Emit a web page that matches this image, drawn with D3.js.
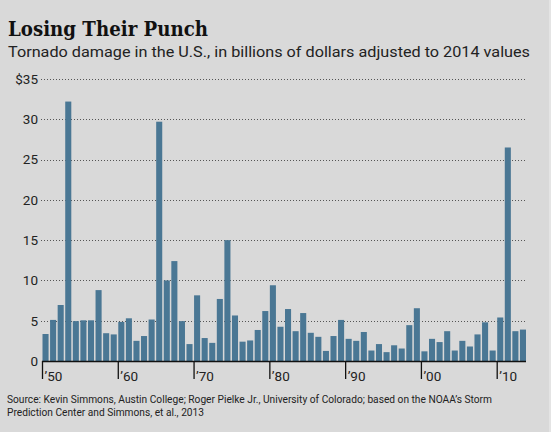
<!DOCTYPE html>
<html>
<head>
<meta charset="utf-8">
<script src="https://cdn.jsdelivr.net/npm/d3@7"></script>
<style>
  html, body { margin: 0; padding: 0; background: #ffffff; }
  svg { display: block; }
</style>
</head>
<body>
<svg id="chart" width="555" height="435"></svg>
<script>
const years = d3.range(1950, 2014);
const damage = [
  3.35, 5.1, 6.95, 32.2, 4.95, 5.05, 5.05, 8.8, 3.45, 3.3,
  4.85, 5.3, 2.5, 3.1, 5.15, 29.7, 10.0, 12.4, 4.95, 2.1,
  8.15, 2.85, 2.25, 7.7, 15.0, 5.65, 2.4, 2.55, 3.85, 6.2,
  9.4, 4.25, 6.45, 3.7, 5.95, 3.5, 3.0, 1.25, 3.1, 5.1,
  2.75, 2.5, 3.6, 1.3, 2.1, 1.1, 1.95, 1.55, 4.45, 6.55,
  1.2, 2.75, 2.35, 3.7, 1.3, 2.5, 1.8, 3.3, 4.8, 1.3,
  5.4, 26.5, 3.7, 3.9
];
const yTicks = [0, 5, 10, 15, 20, 25, 30, 35];
const yTickLabels = ["0", "5", "10", "15", "20", "25", "30", "$35"];
const decadeYears = [1950, 1960, 1970, 1980, 1990, 2000, 2010];
const decadeLabels = ["\u201950", "\u201960", "\u201970", "\u201980", "\u201990", "\u201900", "\u201910"];
const title = "Losing Their Punch";
const subtitle = "Tornado damage in the U.S., in billions of dollars adjusted to 2014 values";
const sourceLines = [
  "Source: Kevin Simmons, Austin College; Roger Pielke Jr., University of Colorado; based on the NOAA\u2019s Storm",
  "Prediction Center and Simmons, et al., 2013"
];

const svg = d3.select("#chart");
const font = "Roboto, 'Noto Sans', sans-serif";

svg.append("rect").attr("x", 0).attr("y", 0).attr("width", 549).attr("height", 432).attr("fill", "#d9d9d9");
svg.append("rect").attr("x", 549).attr("y", 0).attr("width", 2).attr("height", 432).attr("fill", "#e4e4e4");

const x = d3.scaleBand().domain(years).range([42.5, 526]).paddingInner(0.2).paddingOuter(0);
const y = d3.scaleLinear().domain([0, 35]).range([361, 79]);

// gridlines
svg.append("g").selectAll("line").data(yTicks.filter(d => d > 0)).join("line")
  .attr("x1", 41).attr("x2", 526)
  .attr("y1", d => Math.round(y(d)) + 0.5).attr("y2", d => Math.round(y(d)) + 0.5)
  .attr("stroke", "#555").attr("stroke-width", 1).attr("stroke-dasharray", "1,2");

// y labels
svg.append("g").selectAll("text").data(yTicks).join("text")
  .attr("x", 38).attr("y", d => y(d)).attr("dy", "0.36em")
  .attr("text-anchor", "end").attr("font-family", font).attr("font-size", 13.5).attr("fill", "#222")
  .text((d, i) => yTickLabels[i]);

// bars
svg.append("g").selectAll("rect").data(years).join("rect")
  .attr("x", d => x(d)).attr("width", x.bandwidth())
  .attr("y", (d, i) => y(damage[i])).attr("height", (d, i) => y(0) - y(damage[i]))
  .attr("fill", "#4a7794");

// baseline
svg.append("line").attr("x1", 42).attr("x2", 526).attr("y1", 361.5).attr("y2", 361.5)
  .attr("stroke", "#111").attr("stroke-width", 1.5);

// decade ticks
svg.append("g").selectAll("line").data(decadeYears).join("line")
  .attr("x1", d => x(d)).attr("x2", d => x(d))
  .attr("y1", 361).attr("y2", 379)
  .attr("stroke", "#111").attr("stroke-width", 1.3);
svg.append("g").selectAll("text").data(decadeYears).join("text")
  .attr("x", d => x(d) + 2).attr("y", 381)
  .attr("font-family", font).attr("font-size", 13.5).attr("fill", "#222")
  .text((d, i) => decadeLabels[i]);

// titles
svg.append("text").attr("x", 8).attr("y", 36)
  .attr("font-family", "'DejaVu Serif', serif").attr("font-weight", "bold").attr("font-size", 19.5)
  .attr("textLength", 200).attr("lengthAdjust", "spacingAndGlyphs")
  .attr("fill", "#111").text(title);
svg.append("text").attr("x", 8).attr("y", 57)
  .attr("font-family", font).attr("font-size", 14.5).attr("fill", "#222")
  .attr("textLength", 522).attr("lengthAdjust", "spacingAndGlyphs")
  .text(subtitle);

// source
svg.append("g").selectAll("text").data(sourceLines).join("text")
  .attr("x", 7).attr("y", (d, i) => 403 + i * 12.5)
  .attr("font-family", font).attr("font-size", 11.5).attr("fill", "#222")
  .attr("textLength", (d, i) => i === 0 ? 485 : 197).attr("lengthAdjust", "spacingAndGlyphs")
  .text(d => d);
</script>
</body>
</html>
